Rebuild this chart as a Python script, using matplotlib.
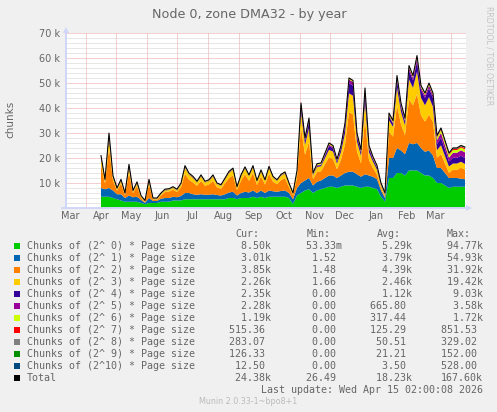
import numpy as np
import pandas as pd
import matplotlib
matplotlib.use("Agg")
import matplotlib.pyplot as plt
from matplotlib.patches import Rectangle
from matplotlib.ticker import MultipleLocator

W, H = 497, 412

# ---------------- data (values in thousands of chunks, one point every 4 days) ----------------
start_date = "2025-04-16"
n_points = 92

chunks_p0 = [4.5, 4.5, 4.5, 4, 3.5, 3, 2.5, 2.5, 2.5, 2.5, 2, 1.5, 2, 2, 2, 2.5, 2.5, 2.5, 3, 3, 3,
             3.5, 3.5, 3.5, 3.5, 3.5, 3.5, 3.5, 3.5, 3.5, 3.5, 3.5, 4, 4, 3.5, 4, 4, 4, 4.5, 4, 4.5, 4, 4.5, 4.5, 4.5, 4.5, 4.5, 4, 1.5,
             5, 6, 7, 7.5, 6, 7, 7.5, 8, 8.5, 8.5, 8, 8.5, 9, 9, 9, 8.5, 8, 8.5, 8.5, 8, 7.5, 4.5, 2.5,
             12, 12, 14, 14, 13, 15, 15, 15, 14, 13, 13, 12,
             10, 10, 9, 8, 8.5, 8.5, 8.5, 8.5]
chunks_p1 = [3.5, 3.0, 3.5, 3, 2, 2.5, 1.5, 2.5, 1.8, 2, 1.2, 0.6, 2, 0.8, 0.8, 1.2, 1.5, 1.5, 1.5, 1.3, 1.8,
             2.5, 2.5, 2, 1.8, 2, 1.8, 1.8, 2, 1.7, 1.5, 2, 2.2, 2.5, 1.5, 2, 2.5, 2.2, 2.5, 2, 2.5, 2, 2.5, 2.2, 2, 2.3, 2.5, 2, 2,
             3, 4, 4, 4.5, 3, 3.5, 3.5, 4, 4.5, 4.5, 4, 4.5, 5, 5.5, 5.5, 5, 4.5, 5, 4.5, 4.5, 4, 2.5, 1.5,
             8, 8, 10, 9, 8.5, 11, 10.5, 11, 10, 9.5, 10, 9,
             6, 6, 5, 4, 3.5, 3.5, 3.2, 3.01]
chunks_p2 = [9.4, 2.3, 16.1, 4.0, 1.4, 4.3, 1.1, 9.2, 1.7, 4.3, 0.95, 0.3, 5.5, 0.46, 0.46, 1.3, 2.4, 2.6, 2.8, 2.1, 3.6,
             7.7, 5.3, 4.7, 3.6, 5.3, 3.6, 4.1, 5.3, 3.1, 2.7, 4.4, 5.8, 6.6, 2.2, 4.9, 7.0, 4.7, 7.0, 3.2, 5.6, 3.4, 6.7, 3.8, 3.0, 4.4, 4.9, 2.4, 1.6,
             4.2, 22.4, 10.3, 14.4, 2.5, 3.9, 3.7, 5.5, 7.3, 6.6, 3.5, 6.4, 11.4, 23.9, 22.9, 9.1, 5.4, 21.9, 6.1, 3.5, 1.8, 0.9, 0.6,
             10.6, 8.5, 17.1, 10.5, 7.6, 17.4, 15.6, 19.6, 13.1, 12.1, 14.4, 13.4,
             4.1, 5.6, 3.8, 2.1, 3.3, 3.3, 4.4, 3.85]
chunks_p3 = [2.5, 1.0, 4, 1.2, 0.6, 1.0, 0.4, 2, 0.5, 1, 0.4, 0.2, 1.2, 0.3, 0.3, 0.5, 0.6, 0.6, 0.7, 0.6, 1.0,
             2.5, 2, 1.8, 1.3, 1.8, 1.3, 1.4, 1.8, 1.2, 1.1, 1.5, 2, 2.2, 0.9, 1.8, 2.3, 1.8, 2.3, 1.3, 2, 1.4, 2.3, 1.6, 1.3, 1.7, 1.9, 1.1, 0.5,
             1.8, 6, 4, 5.5, 1.5, 2, 2, 2.5, 3, 3, 2.3, 3, 4.5, 7.5, 7.5, 4, 3, 7, 3.2, 2.5, 2, 1, 0.5,
             4.5, 4, 7, 5, 4, 8, 7, 9, 7, 6.5, 7, 6,
             3, 3.5, 3, 2.5, 2.5, 2.5, 2.4, 2.26]
chunks_p4 = [0.5, 0.2, 1, 0.3, 0.1, 0.2, 0.1, 0.6, 0.1, 0.2, 0.05, 0.02, 0.3, 0.05, 0.05, 0.1, 0.1, 0.1, 0.1, 0.1, 0.15,
             0.3, 0.2, 0.2, 0.1, 0.2, 0.1, 0.1, 0.2, 0.1, 0.1, 0.15, 0.2, 0.2, 0.05, 0.15, 0.2, 0.15, 0.2, 0.1, 0.2, 0.1, 0.2, 0.15, 0.1, 0.15, 0.2, 0.1, 0.05,
             0.3, 2, 1.5, 2.5, 0.3, 0.5, 0.5, 1, 1.5, 1.3, 0.8, 1.5, 2.5, 4, 4, 2, 1.3, 3.5, 1.5, 1, 0.8, 0.3, 0.2,
             1.5, 1.2, 3, 2, 1.5, 3.5, 3, 4, 3, 3, 3.5, 3.5,
             2.5, 3, 2.5, 2, 2.3, 2.3, 2.4, 2.35]
chunks_p5 = [0.2, 0.1, 0.5, 0.1, 0.05, 0.1, 0.05, 0.3, 0.05, 0.1, 0.03, 0.01, 0.1, 0.02, 0.02, 0.05, 0.05, 0.05, 0.05, 0.05, 0.05,
             0.1, 0.1, 0.1, 0.05, 0.1, 0.05, 0.05, 0.1, 0.05, 0.05, 0.05, 0.1, 0.1, 0.03, 0.05, 0.1, 0.05, 0.1, 0.05, 0.1, 0.05, 0.1, 0.05, 0.05, 0.05, 0.1, 0.05, 0.03,
             0.1, 1, 0.6, 1, 0.1, 0.2, 0.2, 0.4, 0.6, 0.5, 0.3, 0.5, 1, 1.5, 1.5, 0.8, 0.5, 1.5, 0.6, 0.4, 0.3, 0.2, 0.1,
             0.5, 0.4, 1, 0.6, 0.5, 1.2, 1, 1.5, 1, 1, 1.2, 1.2,
             1.5, 2, 1.8, 1.5, 2, 2, 2.2, 2.28]
chunks_p6 = [0.2, 0.2, 0.2, 0.2, 0.2, 0.2, 0.2, 0.2, 0.2, 0.2, 0.2, 0.2, 0.2, 0.2, 0.2, 0.2, 0.2, 0.2, 0.2, 0.2, 0.2,
             0.2, 0.2, 0.2, 0.2, 0.2, 0.2, 0.2, 0.2, 0.2, 0.2, 0.2, 0.2, 0.2, 0.2, 0.2, 0.2, 0.2, 0.2, 0.2, 0.2, 0.2, 0.2, 0.2, 0.2, 0.2, 0.2, 0.2, 0.2,
             0.4, 0.4, 0.4, 0.4, 0.4, 0.4, 0.4, 0.4, 0.4, 0.4, 0.4, 0.4, 0.4, 0.4, 0.4, 0.4, 0.4, 0.4, 0.4, 0.4, 0.4, 0.4, 0.4,
             0.6, 0.6, 0.6, 0.6, 0.6, 0.6, 0.6, 0.6, 0.6, 0.6, 0.6, 0.6,
             1.1, 1.1, 1.1, 1.1, 1.1, 1.1, 1.1, 1.19]
chunks_p7 = [0.1, 0.1, 0.1, 0.1, 0.1, 0.1, 0.1, 0.1, 0.1, 0.1, 0.1, 0.1, 0.1, 0.1, 0.1, 0.1, 0.1, 0.1, 0.1, 0.1, 0.1,
             0.1, 0.1, 0.1, 0.1, 0.1, 0.1, 0.1, 0.1, 0.1, 0.1, 0.1, 0.1, 0.1, 0.1, 0.1, 0.1, 0.1, 0.1, 0.1, 0.1, 0.1, 0.1, 0.1, 0.1, 0.1, 0.1, 0.1, 0.1,
             0.15, 0.15, 0.15, 0.15, 0.15, 0.15, 0.15, 0.15, 0.15, 0.15, 0.15, 0.15, 0.15, 0.15, 0.15, 0.15, 0.15, 0.15, 0.15, 0.15, 0.15, 0.15, 0.15,
             0.2, 0.2, 0.2, 0.2, 0.2, 0.2, 0.2, 0.2, 0.2, 0.2, 0.2, 0.2,
             0.45, 0.45, 0.45, 0.45, 0.45, 0.45, 0.45, 0.52]
chunks_p8 = [0.05, 0.05, 0.05, 0.05, 0.05, 0.05, 0.05, 0.05, 0.05, 0.05, 0.05, 0.05, 0.05, 0.05, 0.05, 0.05, 0.05, 0.05, 0.05, 0.05, 0.05,
             0.04, 0.04, 0.04, 0.04, 0.04, 0.04, 0.04, 0.04, 0.04, 0.04, 0.04, 0.04, 0.04, 0.04, 0.04, 0.04, 0.04, 0.04, 0.04, 0.04, 0.04, 0.04, 0.04, 0.04, 0.04, 0.04, 0.04, 0.04,
             0.05, 0.05, 0.05, 0.05, 0.05, 0.05, 0.05, 0.05, 0.05, 0.05, 0.05, 0.05, 0.05, 0.05, 0.05, 0.05, 0.05, 0.05, 0.05, 0.05, 0.05, 0.05, 0.05,
             0.06, 0.06, 0.06, 0.06, 0.06, 0.06, 0.06, 0.06, 0.06, 0.06, 0.06, 0.06,
             0.25, 0.25, 0.25, 0.25, 0.25, 0.25, 0.25, 0.28]
chunks_p9 = [0.02, 0.02, 0.02, 0.02, 0.02, 0.02, 0.02, 0.02, 0.02, 0.02, 0.02, 0.02, 0.02, 0.02, 0.02, 0.02, 0.02, 0.02, 0.02, 0.02, 0.02,
             0.02, 0.02, 0.02, 0.02, 0.02, 0.02, 0.02, 0.02, 0.02, 0.02, 0.02, 0.02, 0.02, 0.02, 0.02, 0.02, 0.02, 0.02, 0.02, 0.02, 0.02, 0.02, 0.02, 0.02, 0.02, 0.02, 0.02, 0.02,
             0.02, 0.02, 0.02, 0.02, 0.02, 0.02, 0.02, 0.02, 0.02, 0.02, 0.02, 0.02, 0.02, 0.02, 0.02, 0.02, 0.02, 0.02, 0.02, 0.02, 0.02, 0.02, 0.02,
             0.03, 0.03, 0.03, 0.03, 0.03, 0.03, 0.03, 0.03, 0.03, 0.03, 0.03, 0.03,
             0.12, 0.12, 0.12, 0.12, 0.12, 0.12, 0.12, 0.13]
chunks_p10 = [0.0, 0.0, 0.0, 0.0, 0.0, 0.0, 0.0, 0.0, 0.0, 0.0, 0.0, 0.0, 0.0, 0.0, 0.0, 0.0, 0.0, 0.0, 0.0, 0.0, 0.0,
              0.0, 0.0, 0.0, 0.0, 0.0, 0.0, 0.0, 0.0, 0.0, 0.0, 0.0, 0.0, 0.0, 0.0, 0.0, 0.0, 0.0, 0.0, 0.0, 0.0, 0.0, 0.0, 0.0, 0.0, 0.0, 0.0, 0.0, 0.0,
              0.0, 0.0, 0.0, 0.0, 0.0, 0.0, 0.0, 0.0, 0.0, 0.0, 0.0, 0.0, 0.0, 0.0, 0.0, 0.0, 0.0, 0.0, 0.0, 0.0, 0.0, 0.0, 0.0,
              0.0, 0.0, 0.0, 0.0, 0.0, 0.0, 0.0, 0.0, 0.0, 0.0, 0.0, 0.0,
              0.01, 0.01, 0.01, 0.01, 0.01, 0.01, 0.01, 0.01]

series_names = ["Chunks of (2^ 0) * Page size", "Chunks of (2^ 1) * Page size",
                "Chunks of (2^ 2) * Page size", "Chunks of (2^ 3) * Page size",
                "Chunks of (2^ 4) * Page size", "Chunks of (2^ 5) * Page size",
                "Chunks of (2^ 6) * Page size", "Chunks of (2^ 7) * Page size",
                "Chunks of (2^ 8) * Page size", "Chunks of (2^ 9) * Page size",
                "Chunks of (2^10) * Page size", "Total"]
series_colors = ["#00CC00", "#0066B3", "#FF8000", "#FFCC00", "#330099", "#990099",
                 "#CCFF00", "#FF0000", "#808080", "#008F00", "#00487D", "#000000"]

cur_vals = ["8.50k", "3.01k", "3.85k", "2.26k", "2.35k", "2.28k", "1.19k",
            "515.36", "283.07", "126.33", "12.50", "24.38k"]
min_vals = ["53.33m", "1.52", "1.48", "1.66", "0.00", "0.00", "0.00",
            "0.00", "0.00", "0.00", "0.00", "26.49"]
avg_vals = ["5.29k", "3.79k", "4.39k", "2.46k", "1.12k", "665.80", "317.44",
            "125.29", "50.51", "21.21", "3.50", "18.23k"]
max_vals = ["94.77k", "54.93k", "31.92k", "19.42k", "9.03k", "3.58k", "1.72k",
            "851.53", "329.02", "152.00", "528.00", "167.60k"]

y_ticks = [10, 20, 30, 40, 50, 60, 70]
y_tick_labels = ["10 k", "20 k", "30 k", "40 k", "50 k", "60 k", "70 k"]
month_labels = ["Mar", "Apr", "May", "Jun", "Jul", "Aug", "Sep", "Oct", "Nov", "Dec",
                "Jan", "Feb", "Mar"]

title = "Node 0, zone DMA32 - by year"
last_update = "Last update: Wed Apr 15 02:00:08 2026"
munin_version = "Munin 2.0.33-1~bpo8+1"

# ---------------- figure ----------------
FONT = "#666666"
AXIS = "#CFD6F8"

fig = plt.figure(figsize=(W / 100, H / 100), dpi=100, facecolor="#F0F0F0")


def fx(x):
    return x / W


def fy(y):
    return 1 - y / H


ax_l, ax_r, ax_t, ax_b = 66, 466, 33, 208
ax = fig.add_axes([fx(ax_l), fy(ax_b), (ax_r - ax_l) / W, (ax_b - ax_t) / H])
ax.set_facecolor("#FFFFFF")

dates = pd.date_range(start_date, periods=n_points, freq="4D")
stack = [np.array(s, dtype=float) for s in
         [chunks_p0, chunks_p1, chunks_p2, chunks_p3, chunks_p4, chunks_p5,
          chunks_p6, chunks_p7, chunks_p8, chunks_p9, chunks_p10]]
total = np.sum(stack, axis=0)

ax.stackplot(dates, *stack, colors=series_colors[:11], linewidth=0, zorder=2)
ax.plot(dates, total, color="#000000", lw=0.75, zorder=3)

ax.set_xlim(pd.Timestamp("2025-03-12"), pd.Timestamp("2026-04-16"))
ax.set_ylim(0, 70)

month_starts = pd.date_range("2025-04-01", "2026-04-01", freq="MS")
label_pos = pd.date_range("2025-03-01", "2026-03-01", freq="MS") + pd.Timedelta(days=15)
ax.set_xticks(month_starts)
ax.set_xticklabels([])
ax.set_xticks(label_pos, minor=True)
ax.set_xticklabels(month_labels, minor=True)
ax.set_yticks(y_ticks)
ax.set_yticklabels(y_tick_labels)
ax.yaxis.set_minor_locator(MultipleLocator(2))

ax.tick_params(axis="both", which="both", length=0, labelsize=7, labelcolor=FONT)
ax.tick_params(axis="x", which="minor", pad=2.5)
ax.tick_params(axis="y", which="major", pad=4)

ax.set_axisbelow(True)
mg = "#EAA0A0"
gg = "#CFCFCF"
dots = (0, (1, 1))
ax.xaxis.grid(True, which="major", color=mg, linestyle=dots, linewidth=0.72)
ax.xaxis.grid(False, which="minor")
ax.yaxis.grid(True, which="major", color=mg, linestyle=dots, linewidth=0.72)
ax.yaxis.grid(True, which="minor", color=gg, linestyle=dots, linewidth=0.72)

for sp in ax.spines.values():
    sp.set_visible(False)

# axis lines with arrows
ax.plot([0, 0], [0, 1.0], transform=ax.transAxes, color=AXIS, lw=1.4, clip_on=False, zorder=4)
ax.plot([-0.01, 1.0], [0, 0], transform=ax.transAxes, color=AXIS, lw=1.4, clip_on=False, zorder=4)
ax.plot([0], [1.02], transform=ax.transAxes, marker="^", markersize=4.5, color=AXIS,
        clip_on=False, zorder=4, markeredgewidth=0)
ax.plot([1.008], [0], transform=ax.transAxes, marker=">", markersize=4.5, color=AXIS,
        clip_on=False, zorder=4, markeredgewidth=0)

# titles
fig.text(fx(249), fy(18.3), title, ha="center", va="baseline", fontsize=9.2, color=FONT)
fig.text(fx(10.5), fy(119.7), "chunks", rotation=90, ha="center", va="center",
         fontsize=7.5, color=FONT)
fig.text(fx(488.5), fy(6), "RRDTOOL / TOBI OETIKER", rotation=270, ha="center", va="top",
         fontsize=5.6, color="#C4C4C4")

# legend
mono = "DejaVu Sans Mono"
fs = 7.18
hdr_y = 236.7
fig.text(fx(235.5), fy(hdr_y), "Cur:", fontfamily=mono, fontsize=fs, color=FONT, va="baseline")
fig.text(fx(306.5), fy(hdr_y), "Min:", fontfamily=mono, fontsize=fs, color=FONT, va="baseline")
fig.text(fx(376.5), fy(hdr_y), "Avg:", fontfamily=mono, fontsize=fs, color=FONT, va="baseline")
fig.text(fx(447.0), fy(hdr_y), "Max:", fontfamily=mono, fontsize=fs, color=FONT, va="baseline")


def fmt(v):
    # rrdtool style: %6.2lf%s  (suffix or space)
    if v[-1] in "km":
        return v[:-1].rjust(6) + v[-1]
    return v.rjust(6) + " "


col_x = [229.0, 300.3, 370.3, 441.0]
for i, name in enumerate(series_names):
    yb = 249.3 + 12 * i
    fig.add_artist(Rectangle((fx(14), fy(yb - 0.8)), 6 / W, 6 / H, transform=fig.transFigure,
                             facecolor=series_colors[i], edgecolor="none"))
    fig.text(fx(26.7), fy(yb), name, fontfamily=mono, fontsize=fs, color=FONT, va="baseline")
    for cx, vals in zip(col_x, [cur_vals, min_vals, avg_vals, max_vals]):
        fig.text(fx(cx), fy(yb), fmt(vals[i]), fontfamily=mono, fontsize=fs, color=FONT,
                 va="baseline", ha="left")

fig.text(fx(483), fy(393.3), last_update, fontfamily=mono, fontsize=fs, color=FONT,
         va="baseline", ha="right")
fig.text(fx(248), fy(404), munin_version, fontsize=5.8, color="#BBBBBB",
         va="baseline", ha="center")

fig.savefig("out.png", dpi=100, facecolor=fig.get_facecolor())
